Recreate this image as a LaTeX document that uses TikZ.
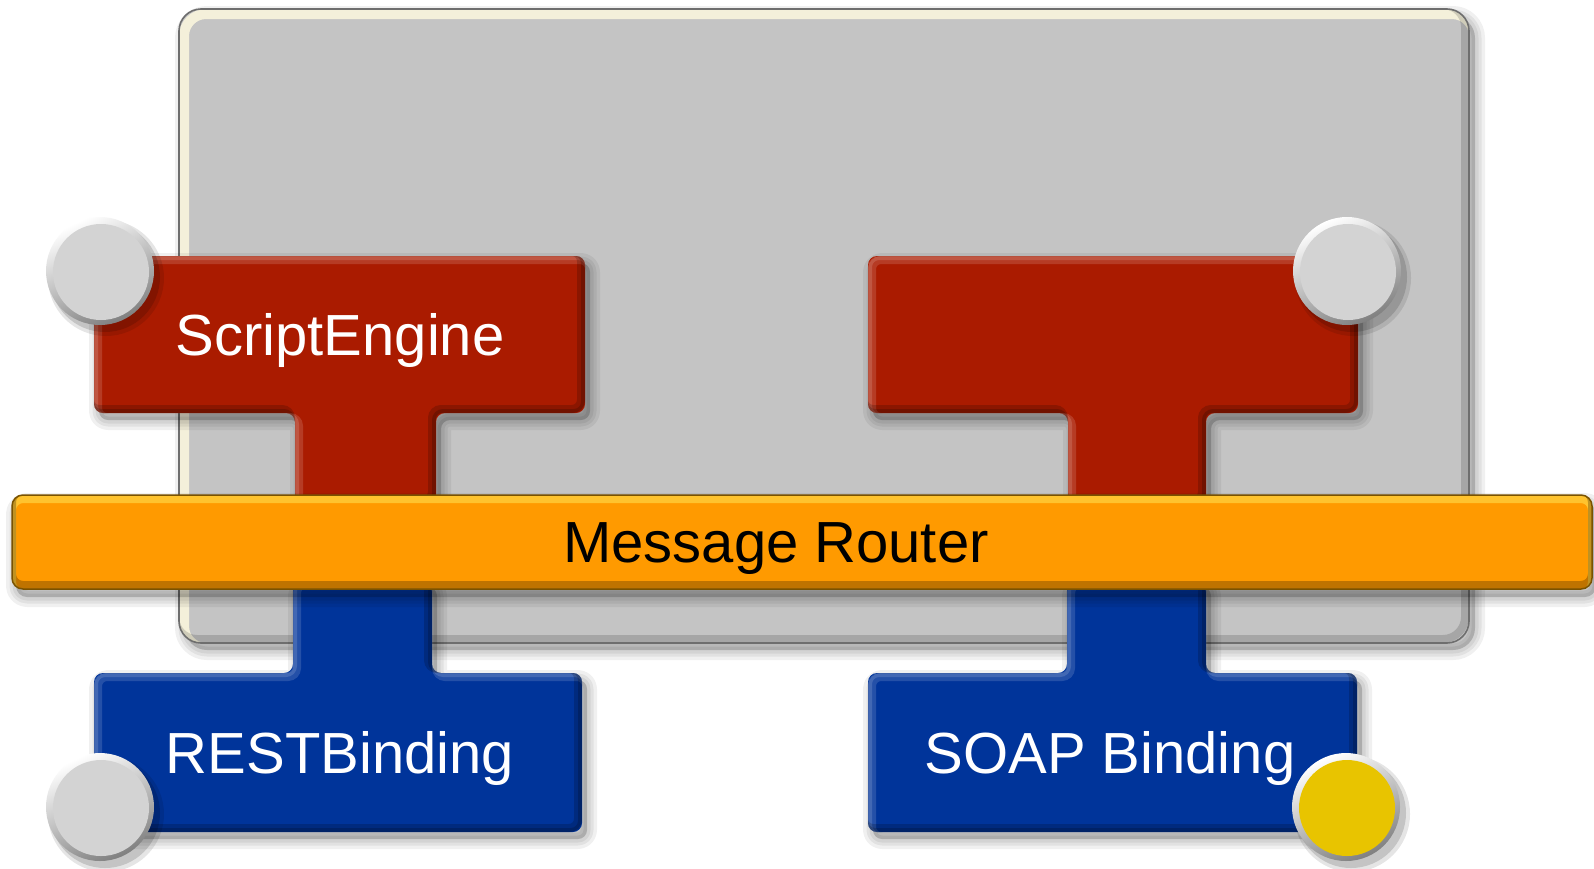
\documentclass[tikz,border=0pt]{standalone}
\usepackage{fontspec}
\setmainfont{Liberation Sans}
\definecolor{panelgray}{HTML}{C4C4C4}
\definecolor{panelrim}{HTML}{F4F0DA}
\definecolor{panelline}{HTML}{6E6E6E}
\definecolor{seRed}{HTML}{AA1B00}
\definecolor{bindBlue}{HTML}{00349A}
\definecolor{routerOrange}{HTML}{FF9A00}
\definecolor{routerLine}{HTML}{7A5200}
\definecolor{portGray}{HTML}{D3D3D3}
\definecolor{portYellow}{HTML}{E8C400}

\tikzset{
  lbl/.style={font=\fontsize{58}{60}\selectfont, text=white, inner sep=0pt, anchor=base},
  rlbl/.style={lbl, text=black},
}

\def\panelP{[rounded corners=22] (179,9) rectangle (1469,643)}
\def\seP{[rounded corners=9] (94,256) -- (585,256) -- (585,413) -- (436,413) -- (436,505) -- (295,505) -- (295,413) -- (94,413) -- cycle}
\def\rtP{[rounded corners=9] (868,256) -- (1358,256) -- (1358,413) -- (1206,413) -- (1206,505) -- (1068,505) -- (1068,413) -- (868,413) -- cycle}
\def\rbP{[rounded corners=9] (94,673) -- (293,673) -- (293,580) -- (432,580) -- (432,673) -- (582,673) -- (582,832) -- (94,832) -- cycle}
\def\sbP{[rounded corners=9] (868,673) -- (1067,673) -- (1067,580) -- (1206,580) -- (1206,673) -- (1357,673) -- (1357,832) -- (868,832) -- cycle}
\def\routerP{[rounded corners=11] (12,495) rectangle (1592,589)}

\newcommand\softshadow[3]{%
  \begin{scope}[shift={(#2,#3)}]
    \foreach \w in {20,13,7} {\draw[black, opacity=0.06, line width=\w, line join=round] #1;}
    \fill[black, opacity=0.18] #1;
  \end{scope}}

\newcommand\bevel[2]{%
  \fill[#2] #1;
  \begin{scope}
    \clip #1;
    \draw[white, opacity=0.14, line width=8, shift={(4,4)}] #1;
    \draw[white, opacity=0.14, line width=4, shift={(2,2)}] #1;
    \draw[black, opacity=0.18, line width=8, shift={(-4,-4)}] #1;
    \draw[black, opacity=0.18, line width=4, shift={(-2,-2)}] #1;
  \end{scope}}

\newcommand\port[4]{%
  \fill[black, opacity=0.10] (#2+6,#3+7) circle[radius=58];
  \fill[black, opacity=0.14] (#2+5,#3+6) circle[radius=55];
  \shade[top color=white, bottom color=black!50, shading angle=25] (#2,#3) circle[radius=54];
  \fill[#4] (#2+1,#3+1) circle[radius=48];
  \coordinate (#1) at (#2,#3);}

\begin{document}
\begin{tikzpicture}[x=1pt,y=-1pt]
\useasboundingbox[fill=white] (0,0) rectangle (1594,868);

% panel
\softshadow{\panelP}{6}{7}
\fill[panelgray] \panelP;
\begin{scope}
  \clip \panelP;
  \draw[panelrim, line width=10, shift={(5,5)}] \panelP;
  \draw[black, opacity=0.15, line width=8, shift={(-4,-4)}] \panelP;
\end{scope}
\draw[panelline, line width=1.6] \panelP;

% script engines
\softshadow{\seP}{5}{7}
\softshadow{\rtP}{5}{7}
\bevel{\seP}{seRed}
\bevel{\rtP}{seRed}

% bindings
\softshadow{\rbP}{5}{7}
\softshadow{\sbP}{5}{7}
\bevel{\rbP}{bindBlue}
\bevel{\sbP}{bindBlue}

% router
\softshadow{\routerP}{4}{8}
\fill[routerOrange] \routerP;
\begin{scope}
  \clip \routerP;
  \draw[yellow!60!white, opacity=0.45, line width=8, shift={(0,4)}] \routerP;
  \draw[black, opacity=0.25, line width=8, shift={(0,-4)}] \routerP;
\end{scope}
\draw[routerLine, line width=1.5] \routerP;

% ports
\port{p1}{100}{271}{portGray}
\port{p2}{1347}{271}{portGray}
\port{p3}{100}{807}{portGray}
\port{p4}{1346}{807}{portYellow}

% labels
\node[lbl] (se) at (340,355) {ScriptEngine};
\node[rlbl] (mr) at (776,562) {Message Router};
\node[lbl] (rb) at (340,773) {RESTBinding};
\node[lbl] (sb) at (1110,773) {SOAP Binding};
\end{tikzpicture}
\end{document}
